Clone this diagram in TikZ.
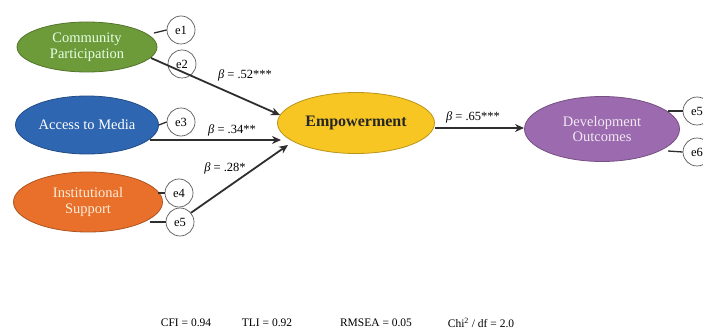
\documentclass[tikz,border=0pt]{standalone}
\usepackage{fontspec}
\setmainfont{Liberation Serif}
\usetikzlibrary{arrows.meta,shapes.geometric}
\definecolor{cpgreen}{HTML}{6E9B3A}
\definecolor{mediablue}{HTML}{2F66B1}
\definecolor{instorange}{HTML}{E8702B}
\definecolor{empyellow}{HTML}{F7C623}
\definecolor{devpurple}{HTML}{9C6AAE}
\definecolor{linegray}{HTML}{2E2E2E}
\begin{document}
\begin{tikzpicture}[x=1pt,y=-1pt,
  latent/.style={ellipse, draw=#1!75!black, fill=#1, line width=0.8pt, inner sep=0pt, align=center,
    font=\fontsize{14.5}{15.5}\selectfont},
  errnode/.style={circle, draw=black!65, fill=white, line width=0.7pt, minimum size=28pt, inner sep=0pt,
    font=\fontsize{12.5}{12}\selectfont},
  path/.style={draw=linegray, line width=1.8pt, -{Stealth[length=9pt,width=8pt]}},
  eline/.style={draw=linegray, line width=1.3pt},
  coef/.style={font=\fontsize{12.5}{13}\selectfont, inner sep=1pt},
  fit/.style={font=\fontsize{11.5}{12}\selectfont, inner sep=1pt}]
\useasboundingbox (0,0) rectangle (703,331);
% latent variables
\node[latent=cpgreen, minimum width=140pt, minimum height=50pt, text=green!10!white] (cp) at (87,47) {Community\\Participation};
\node[latent=mediablue, minimum width=143pt, minimum height=58pt, text=white] (acc) at (87,125) {Access to Media};
\node[latent=instorange, minimum width=149pt, minimum height=60pt, text=orange!15!white] (inst) at (88,202) {Institutional\\Support};
\node[latent=empyellow, minimum width=157pt, minimum height=61pt, font=\fontsize{16}{17}\selectfont\bfseries, text=black!85] (emp) at (356,123) {Empowerment};
\node[latent=devpurple, minimum width=155pt, minimum height=65pt, text=devpurple!15!white] (dev) at (602,129) {Development\\Outcomes};
% error terms
\node[errnode] (e1) at (181,30) {e1};
\node[errnode] (e2) at (182,64) {e2};
\node[errnode] (e3) at (181,122) {e3};
\node[errnode] (e4) at (179,193) {e4};
\node[errnode] (e5) at (180,222) {e5};
\node[errnode] (e5r) at (697,111) {e5};
\node[errnode] (e6) at (697,152) {e6};
% error connectors
\coordinate (c1) at (154,33);
\coordinate (c4) at (158,193);
\coordinate (c5) at (150,222);
\coordinate (c6) at (668,111);
\coordinate (c7) at (668,151);
\draw[eline] (c1) -- (e1.west);
\draw[eline] (acc.east) -- (e3.west);
\draw[eline] (c4) -- (e4.west);
\draw[eline] (c5) -- (e5.west);
\draw[eline] (c6) -- (e5r.west);
\draw[eline] (c7) -- (e6.west);
% paths
\coordinate (s1) at (151,58);
\coordinate (t1) at (280,115);
\coordinate (s2) at (150,140);
\coordinate (t2) at (281,140);
\coordinate (t3) at (288,145);
\coordinate (s4) at (435,128);
\coordinate (t4) at (524,128);
\draw[path] (s1) -- (t1);
\draw[path] (s2) -- (t2);
\draw[path] (e5.40) -- (t3);
\draw[path] (s4) -- (t4);
% coefficients
\node[coef] (b1) at (245,75) {{\itshape β} = .52***};
\node[coef] (b2) at (232,130) {{\itshape β} = .34**};
\node[coef] (b3) at (225,168) {{\itshape β} = .28*};
\node[coef] (b4) at (473,117) {{\itshape β} = .65***};
% fit indices
\node[fit] (f1) at (186,323) {CFI = 0.94};
\node[fit] (f2) at (267,323) {TLI = 0.92};
\node[fit] (f3) at (376,323) {RMSEA = 0.05};
\node[fit] (f4) at (481,323) {Chi\textsuperscript{2} / df = 2.0};
\end{tikzpicture}
\end{document}
